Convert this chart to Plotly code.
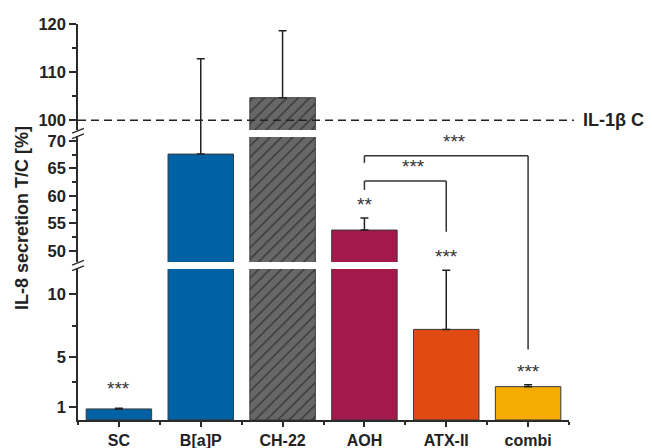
import plotly.graph_objects as go

# ---------------- data ----------------
categories = ["SC", "B[a]P", "CH-22", "AOH", "ATX-II", "combi"]
values = [0.88, 67.6, 104.7, 53.8, 7.2, 2.65]
errors = [0.05, 45.2, 13.9, 2.2, 4.7, 0.15]
bar_colors = ["#0062A5", "#0062A5", "#676767", "#A3194B", "#E04B14", "#F5AB00"]
bar_patterns = ["", "", "/", "", "", ""]
stars = ["***", "", "", "**", "***", "***"]
ref_value = 100
ref_label = "IL-1\u03b2 C"
y_title = "IL-8 secretion T/C [%]"

# segment definitions of the broken y axis (bottom, middle, top)
seg_names = ["y", "y2", "y3"]
seg_ranges = [[0, 12], [48, 70.7], [98, 120]]
seg_domains = [[0.0, 0.3813], [0.399, 0.7146], [0.7323, 1.0]]
seg_ticks = [[1, 5, 10], [50, 55, 60, 65, 70], [100, 110, 120]]
seg_minor = [[3, 7.5], [52.5, 57.5, 62.5, 67.5], [105, 115]]

# significance brackets: (from idx, to idx, height, left leg end, right leg end, label)
brackets = [
    (3, 5, 67.3, 66.0, 5.6, "***"),
    (3, 4, 62.7, 61.1, 53.5, "***"),
]

FONT = "Arial, Liberation Sans, sans-serif"
AX = "#2b2b2b"

def to_paper(v):
    for r, d in zip(seg_ranges, seg_domains):
        if r[0] <= v <= r[1]:
            return d[0] + (v - r[0]) / (r[1] - r[0]) * (d[1] - d[0])
    raise ValueError(v)

def seg_index(v):
    for k, r in enumerate(seg_ranges):
        if r[0] <= v <= r[1]:
            return k
    return None

x_idx = list(range(len(categories)))
n = len(categories)

fig = go.Figure()
for name in seg_names:
    for i in range(n):
        fig.add_trace(go.Bar(
            x=[x_idx[i]], y=[values[i]], width=0.8, xaxis="x", yaxis=name,
            marker=dict(color=bar_colors[i], line=dict(color="#3a3a3a", width=1),
                        pattern=dict(shape=bar_patterns[i], fillmode="overlay",
                                     fgcolor="#363636", bgcolor=bar_colors[i],
                                     fgopacity=1, size=8, solidity=0.17)),
            error_y=dict(type="data", symmetric=False, array=[errors[i]],
                         arrayminus=[0], color="#222222", thickness=1.5, width=4),
            showlegend=False, hoverinfo="skip",
        ))

layout = dict(
    template="none",
    width=652, height=448, autosize=False,
    margin=dict(l=78, r=83, t=24, b=28, pad=0),
    paper_bgcolor="white", plot_bgcolor="white",
    font=dict(family=FONT, color="#222222"),
    barmode="overlay",
    xaxis=dict(
        range=[-0.5, 5.5], tickmode="array", tickvals=x_idx,
        ticktext=["<b>%s</b>" % c for c in categories],
        tickfont=dict(size=16, family=FONT, color="#222"),
        showline=True, linecolor=AX, linewidth=1.5,
        ticks="outside", ticklen=5, tickwidth=1.5, tickcolor=AX,
        minor=dict(tickvals=[i - 0.5 for i in range(n + 1)],
                   ticks="outside", ticklen=3, tickwidth=1.5, tickcolor=AX),
        showgrid=False, zeroline=False, anchor="y", fixedrange=True,
        automargin=False,
    ),
)
for i, (name, r, d, tv, mv) in enumerate(zip(seg_names, seg_ranges, seg_domains, seg_ticks, seg_minor)):
    key = "yaxis" if i == 0 else "yaxis%d" % (i + 1)
    layout[key] = dict(
        range=r, domain=d, anchor="x", tickmode="array", tickvals=tv,
        ticktext=["<b>%s</b>" % t for t in tv],
        tickfont=dict(size=16.5, family=FONT, color="#222"),
        showline=True, linecolor=AX, linewidth=1.5,
        ticks="outside", ticklen=7, tickwidth=1.5, tickcolor=AX,
        minor=dict(tickvals=mv, ticks="outside", ticklen=4, tickwidth=1.5, tickcolor=AX),
        showgrid=False, zeroline=False, fixedrange=True, automargin=False,
    )
fig.update_layout(**layout)

shapes = []
annotations = []

# reference dashed line
shapes.append(dict(type="line", xref="paper", x0=0, x1=1.01, yref="y3",
                   y0=ref_value, y1=ref_value,
                   line=dict(color="#222", width=1.5, dash="8px,5px")))
annotations.append(dict(xref="paper", x=1.025, yref="y3", y=ref_value,
                        text="<b>%s</b>" % ref_label, showarrow=False,
                        xanchor="left", yanchor="middle",
                        font=dict(size=18, family=FONT, color="#222")))

# axis break marks
for lo, hi in zip(seg_domains[:-1], seg_domains[1:]):
    mid = (lo[1] + hi[0]) / 2
    for off in (-0.007, 0.007):
        shapes.append(dict(type="line", xref="paper", yref="paper",
                           x0=-0.012, x1=0.012, y0=mid + off - 0.006, y1=mid + off + 0.006,
                           line=dict(color=AX, width=1.5)))

# error whiskers continue through the axis-break gaps
for i in range(n):
    k0 = seg_index(values[i])
    k1 = seg_index(values[i] + errors[i])
    if k0 is None or k1 is None:
        continue
    for k in range(k0, k1):
        shapes.append(dict(type="line", xref="x", yref="paper", x0=i, x1=i,
                           y0=seg_domains[k][1], y1=seg_domains[k + 1][0],
                           line=dict(color="#222222", width=1.5)))

# brackets
for a, b, h, le, re_, lab in brackets:
    ph = to_paper(h)
    shapes.append(dict(type="line", xref="x", yref="paper", x0=a, x1=b, y0=ph, y1=ph,
                       line=dict(color="#333", width=1.5)))
    shapes.append(dict(type="line", xref="x", yref="paper", x0=a, x1=a, y0=ph, y1=to_paper(le),
                       line=dict(color="#333", width=1.5)))
    shapes.append(dict(type="line", xref="x", yref="paper", x0=b, x1=b, y0=ph, y1=to_paper(re_),
                       line=dict(color="#333", width=1.5)))
    annotations.append(dict(xref="x", x=(a + b) / 2 + 0.1, yref="paper", y=ph, text=lab,
                            showarrow=False, yanchor="bottom", yshift=2,
                            font=dict(size=19, family=FONT, color="#333")))

# significance stars over bars
for i, s in enumerate(stars):
    if not s:
        continue
    top = values[i] + errors[i]
    annotations.append(dict(xref="x", x=i, yref=seg_names[seg_index(top)], y=top, text=s,
                            showarrow=False, yanchor="bottom",
                            yshift=7 if i == 0 else 1,
                            font=dict(size=19, family=FONT, color="#333")))

# y axis title
annotations.append(dict(xref="paper", yref="paper", x=-0.114, y=0.51,
                        text="<b>%s</b>" % y_title, showarrow=False, textangle=-90,
                        xanchor="center", yanchor="middle",
                        font=dict(size=18, family=FONT, color="#222")))

fig.update_layout(shapes=shapes, annotations=annotations)
fig.write_html("out.html", config={"displayModeBar": False},
               post_script="document.body.style.margin='0px';document.body.style.overflow='hidden';")
